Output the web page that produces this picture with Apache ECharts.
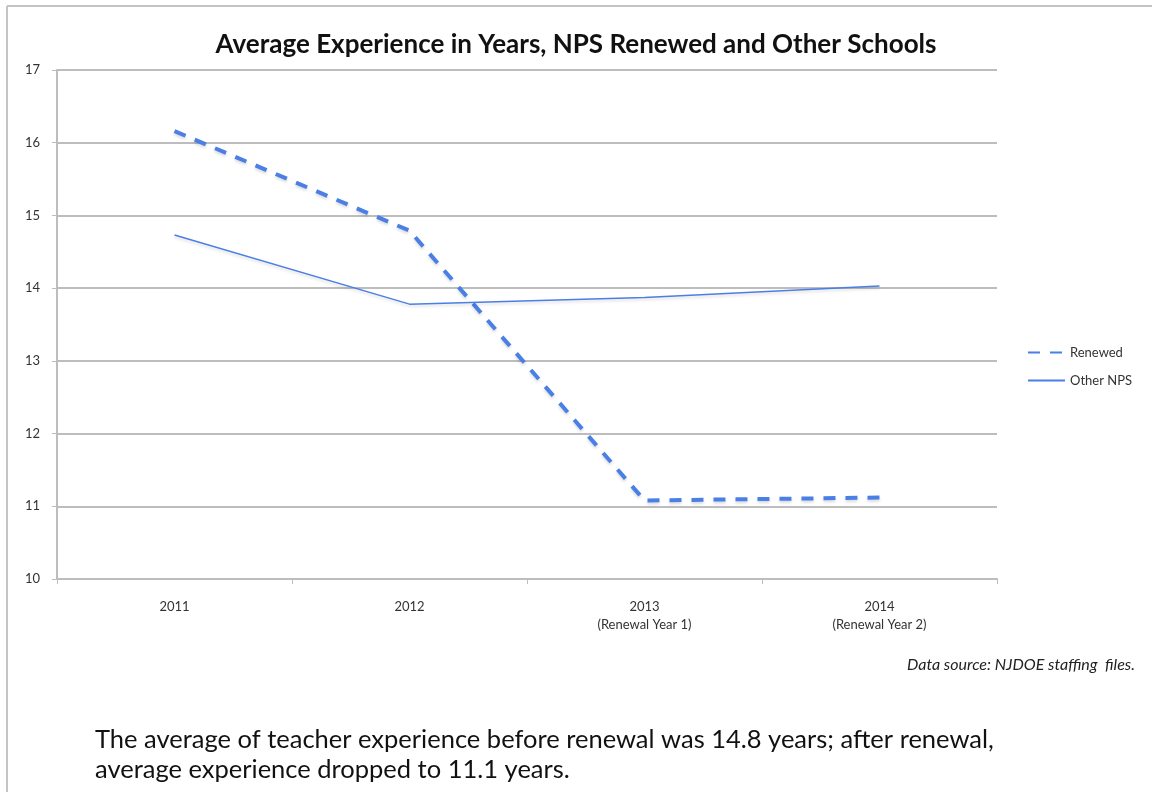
<!DOCTYPE html>
<html>
<head>
<meta charset="utf-8">
<script src="https://cdn.jsdelivr.net/npm/echarts@6/dist/echarts.min.js"></script>
<style>
html,body{margin:0;padding:0;background:#fff;}
#chart{width:1152px;height:792px;}
</style>
</head>
<body>
<div id="chart"></div>
<script>
const categories = ['2011', '2012', '2013\n(Renewal Year 1)', '2014\n(Renewal Year 2)'];
const renewed = [16.16, 14.79, 11.08, 11.12];
const otherNPS = [14.73, 13.78, 13.87, 14.03];
const yTicks = { min: 10, max: 17, interval: 1 };

const chart = echarts.init(document.getElementById('chart'));
const blue = '#4a7fe6';
const font = 'Lato, "Open Sans", sans-serif';
chart.setOption({
  backgroundColor: '#fff',
  animation: false,
  title: [
    { text: 'Average Experience in Years, NPS Renewed and Other Schools', left: 'center', top: 27,
      textStyle: { fontFamily: font, fontSize: 26, fontWeight: 'bold', color: '#111' } },
    { text: 'Data source: NJDOE staffing  files.', right: 12, top: 652,
      textStyle: { fontFamily: font, fontSize: 16, fontStyle: 'italic', fontWeight: 'normal', color: '#222' } },
    { text: 'The average of teacher experience before renewal was 14.8 years; after renewal,\naverage experience dropped to 11.1 years.', left: 90, top: 720,
      textStyle: { fontFamily: font, fontSize: 25.5, fontWeight: 'normal', color: '#111', lineHeight: 30 } }
  ],
  graphic: [
    { type: 'line', shape: { x1: 7, y1: 6, x2: 1152, y2: 6 }, style: { stroke: '#c4c4c4', lineWidth: 2 } },
    { type: 'line', shape: { x1: 7, y1: 6, x2: 7, y2: 792 }, style: { stroke: '#c4c4c4', lineWidth: 2 } }
  ],
  legend: {
    orient: 'vertical', left: 1022, top: 341, itemWidth: 37, itemHeight: 12, itemGap: 15,
    itemStyle: { opacity: 0 },
    textStyle: { fontFamily: font, fontSize: 13, color: '#333' },
    data: [{ name: 'Renewed' }, { name: 'Other NPS' }]
  },
  grid: { left: 57, right: 155, top: 70, bottom: 213 },
  xAxis: {
    type: 'category', data: categories, boundaryGap: true,
    axisLine: { lineStyle: { color: '#bdbdbd', width: 2 } },
    axisTick: { show: true, length: 5, lineStyle: { color: '#bdbdbd' } },
    axisLabel: { fontFamily: font, fontSize: 13, color: '#333', margin: 19, lineHeight: 18 }
  },
  yAxis: {
    type: 'value', min: yTicks.min, max: yTicks.max, interval: yTicks.interval,
    axisLine: { show: true, lineStyle: { color: '#bdbdbd', width: 2 } },
    axisTick: { show: true, length: 5, lineStyle: { color: '#bdbdbd' } },
    axisLabel: { fontFamily: font, fontSize: 13, color: '#333', margin: 17 },
    splitLine: { lineStyle: { color: '#bdbdbd', width: 2 } }
  },
  series: [
    { name: 'Renewed', type: 'line', data: renewed, symbol: 'none',
      lineStyle: { color: blue, width: 4, type: [12, 10], shadowColor: 'rgba(0,0,0,0.15)', shadowBlur: 3, shadowOffsetY: 2 },
      itemStyle: { color: blue } },
    { name: 'Other NPS', type: 'line', data: otherNPS, symbol: 'none',
      lineStyle: { color: blue, width: 1.5, shadowColor: 'rgba(0,0,0,0.15)', shadowBlur: 3, shadowOffsetY: 2 },
      itemStyle: { color: blue } }
  ]
});
</script>
</body>
</html>
